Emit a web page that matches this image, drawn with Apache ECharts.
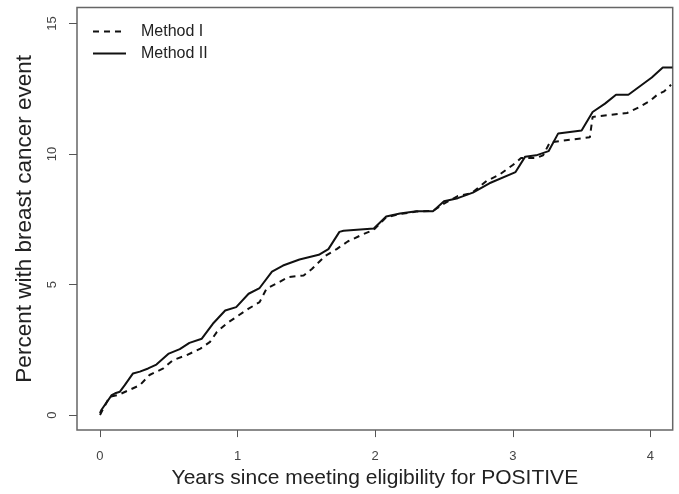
<!DOCTYPE html>
<html>
<head>
<meta charset="utf-8">
<script src="https://cdn.jsdelivr.net/npm/echarts@6/dist/echarts.min.js"></script>
<style>html,body{margin:0;padding:0;background:#fff}#c{width:679px;height:494px}</style>
</head>
<body>
<div id="c"></div>
<script>
// Data
var methodIYears = [0, 0.07, 0.13, 0.21, 0.29, 0.36, 0.46, 0.53, 0.63, 0.73, 0.80, 0.85, 0.92, 0.99, 1.08, 1.16, 1.21, 1.30, 1.37, 1.48, 1.54, 1.59, 1.64, 1.72, 1.80, 1.90, 1.99, 2.08, 2.18, 2.30, 2.42, 2.50, 2.60, 2.70, 2.81, 2.90, 3.00, 3.06, 3.17, 3.22, 3.27, 3.56, 3.58, 3.83, 3.92, 4.00, 4.05, 4.10, 4.15];
var methodIPct   = [0.01, 0.71, 0.77, 0.96, 1.15, 1.54, 1.79, 2.11, 2.30, 2.55, 2.81, 3.19, 3.51, 3.76, 4.08, 4.33, 4.84, 5.09, 5.29, 5.35, 5.60, 5.86, 6.11, 6.36, 6.65, 6.90, 7.10, 7.58, 7.70, 7.80, 7.82, 8.10, 8.39, 8.50, 8.97, 9.20, 9.58, 9.85, 9.85, 9.95, 10.45, 10.64, 11.42, 11.57, 11.80, 12.05, 12.27, 12.40, 12.65];
var methodIIYears = [0, 0.01, 0.085, 0.11, 0.145, 0.18, 0.24, 0.29, 0.35, 0.41, 0.50, 0.58, 0.65, 0.74, 0.82, 0.91, 0.99, 1.08, 1.16, 1.25, 1.33, 1.45, 1.59, 1.66, 1.74, 1.77, 1.99, 2.08, 2.18, 2.30, 2.42, 2.50, 2.60, 2.71, 2.83, 3.02, 3.09, 3.17, 3.26, 3.33, 3.50, 3.58, 3.67, 3.75, 3.84, 4.01, 4.09, 4.16];
var methodIIPct   = [0.08, 0.20, 0.77, 0.84, 0.90, 1.15, 1.60, 1.67, 1.79, 1.94, 2.36, 2.53, 2.77, 2.93, 3.50, 4.01, 4.14, 4.65, 4.87, 5.50, 5.73, 5.96, 6.14, 6.36, 7.02, 7.06, 7.15, 7.61, 7.72, 7.81, 7.81, 8.19, 8.31, 8.52, 8.88, 9.31, 9.90, 9.95, 10.11, 10.79, 10.90, 11.61, 11.93, 12.27, 12.27, 12.93, 13.31, 13.31];
var xTicks = [0, 1, 2, 3, 4];
var yTicks = [0, 5, 10, 15];
var seriesNames = ['Method I', 'Method II'];

function zip(a, b) { return a.map(function (v, i) { return [v, b[i]]; }); }

var font = '"Liberation Sans", Arial, sans-serif';
var chart = echarts.init(document.getElementById('c'), null, { renderer: 'canvas' });
chart.setOption({
  animation: false,
  backgroundColor: '#fff',
  grid: { left: 77, top: 7.5, right: 6.3, bottom: 62, show: true, borderColor: '#666', borderWidth: 1.5, backgroundColor: 'transparent' },
  legend: {
    orient: 'vertical', left: 87, top: 18.5, itemWidth: 33, itemHeight: 14, itemGap: 6,
    data: seriesNames,
    itemStyle: { opacity: 0 },
    textStyle: { fontFamily: font, fontSize: 16, color: '#222', padding: [0, 0, 0, 10] }
  },
  xAxis: {
    type: 'value', min: -0.167, max: 4.162,
    name: 'Years since meeting eligibility for POSITIVE', nameLocation: 'middle', nameGap: 36,
    nameTextStyle: { fontFamily: font, fontSize: 21, color: '#222' },
    axisLine: { show: false, onZero: false },
    splitLine: { show: false },
    axisTick: { show: true, inside: false, length: 7, customValues: xTicks, lineStyle: { color: '#555', width: 1 } },
    axisLabel: { customValues: xTicks, margin: 20, fontFamily: font, fontSize: 13, color: '#444' }
  },
  yAxis: {
    type: 'value', min: -0.57, max: 15.61,
    name: 'Percent with breast cancer event', nameLocation: 'middle', nameGap: 41,
    nameTextStyle: { fontFamily: font, fontSize: 22.5, color: '#222' },
    axisLine: { show: false, onZero: false },
    splitLine: { show: false },
    axisTick: { show: true, inside: false, length: 8, customValues: yTicks, lineStyle: { color: '#555', width: 1 } },
    axisLabel: { customValues: yTicks, margin: 18, rotate: 90, fontFamily: font, fontSize: 13, color: '#444' }
  },
  series: [
    { name: seriesNames[0], type: 'line', symbol: 'none', data: zip(methodIYears, methodIPct),
      lineStyle: { color: '#111', width: 2, type: [6, 5] }, itemStyle: { color: '#111' } },
    { name: seriesNames[1], type: 'line', symbol: 'none', data: zip(methodIIYears, methodIIPct),
      lineStyle: { color: '#111', width: 2, type: 'solid' }, itemStyle: { color: '#111' } }
  ]
});
</script>
</body>
</html>
